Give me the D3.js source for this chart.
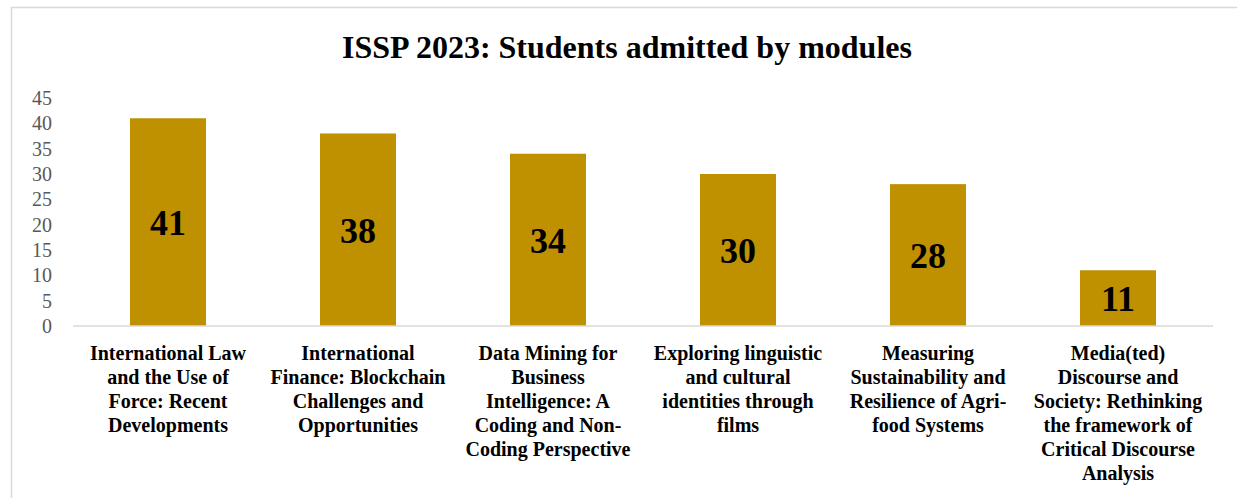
<!DOCTYPE html>
<html>
<head>
<meta charset="utf-8">
<script src="https://cdn.jsdelivr.net/npm/d3@7"></script>
<style>
  html, body { margin: 0; padding: 0; background: #fff; }
  svg { display: block; font-family: 'Liberation Serif', 'Times New Roman', serif; }
</style>
</head>
<body>
<div id="chart"></div>
<script>
const TITLE = 'ISSP 2023: Students admitted by modules'

const modules = [
  'International Law and the Use of Force: Recent Developments',
  'International Finance: Blockchain Challenges and Opportunities',
  'Data Mining for Business Intelligence: A Coding and Non-Coding Perspective',
  'Exploring linguistic and cultural identities through films',
  'Measuring Sustainability and Resilience of Agri-food Systems',
  'Media(ted) Discourse and Society: Rethinking the framework of Critical Discourse Analysis',
]

const students = [41, 38, 34, 30, 28, 11]

// tick labels as they wrap in the original
const moduleLines = [
  ['International Law', 'and the Use of', 'Force: Recent', 'Developments'],
  ['International', 'Finance: Blockchain', 'Challenges and', 'Opportunities'],
  ['Data Mining for', 'Business', 'Intelligence: A', 'Coding and Non-', 'Coding Perspective'],
  ['Exploring linguistic', 'and cultural', 'identities through', 'films'],
  ['Measuring', 'Sustainability and', 'Resilience of Agri-', 'food Systems'],
  ['Media(ted)', 'Discourse and', 'Society: Rethinking', 'the framework of', 'Critical Discourse', 'Analysis'],
]

const yTicks = [0, 5, 10, 15, 20, 25, 30, 35, 40, 45]

const WIDTH = 1237, HEIGHT = 498
const MARGIN = { top: 98, right: 24, bottom: 172, left: 73 }
const W = WIDTH - MARGIN.left - MARGIN.right
const H = HEIGHT - MARGIN.top - MARGIN.bottom

const svg = d3.select('#chart').append('svg')
  .attr('width', WIDTH)
  .attr('height', HEIGHT)

// chart area frame
svg.append('rect')
  .attr('x', 11.5).attr('y', 7.5)
  .attr('width', WIDTH).attr('height', HEIGHT)
  .attr('fill', 'none')
  .attr('stroke', '#d9d9d9')
  .attr('stroke-width', 1.5)

svg.append('text')
  .attr('x', 627).attr('y', 58)
  .attr('text-anchor', 'middle')
  .style('font-size', '32px')
  .style('font-weight', 'bold')
  .attr('fill', '#000')
  .text(TITLE)

const g = svg.append('g').attr('transform', `translate(${MARGIN.left},${MARGIN.top})`)

const x = d3.scaleBand().domain(modules).range([0, W]).paddingInner(0.6).paddingOuter(0.3)
const y = d3.scaleLinear().domain([0, 45]).range([H, 0])

// ── y axis (labels only) ─────────────────────────────────────
const yAxis = g.append('g').call(
  d3.axisLeft(y).tickValues(yTicks).tickSize(0).tickPadding(21)
)
yAxis.select('.domain').remove()
yAxis.selectAll('text')
  .style('font-size', '20px')
  .style('font-family', "'Liberation Serif', serif")
  .attr('fill', '#595959')

// ── bars ─────────────────────────────────────────────────────
g.selectAll('rect.bar').data(students).enter().append('rect')
  .attr('class', 'bar')
  .attr('x', (d, i) => x(modules[i]))
  .attr('y', d => y(d))
  .attr('width', x.bandwidth())
  .attr('height', d => H - y(d))
  .attr('fill', '#bf9000')

g.selectAll('text.val').data(students).enter().append('text')
  .attr('class', 'val')
  .attr('x', (d, i) => x(modules[i]) + x.bandwidth() / 2)
  .attr('y', d => (y(d) + H) / 2)
  .attr('dy', '0.36em')
  .attr('text-anchor', 'middle')
  .style('font-size', '36px')
  .style('font-weight', 'bold')
  .attr('fill', '#000')
  .text(d => d)

// ── x axis baseline + wrapped labels ─────────────────────────
g.append('line')
  .attr('x1', 0).attr('x2', W)
  .attr('y1', H).attr('y2', H)
  .attr('stroke', '#d9d9d9')
  .attr('stroke-width', 1.5)

const labels = g.selectAll('text.cat').data(modules).enter().append('text')
  .attr('class', 'cat')
  .attr('x', d => x(d) + x.bandwidth() / 2)
  .attr('y', H + 34)
  .attr('text-anchor', 'middle')
  .style('font-size', '20px')
  .style('font-weight', 'bold')
  .attr('fill', '#000')

labels.each(function (d, i) {
  const t = d3.select(this)
  moduleLines[i].forEach((line, j) => {
    t.append('tspan')
      .attr('x', x(d) + x.bandwidth() / 2)
      .attr('dy', j === 0 ? 0 : 24)
      .text(line)
  })
})
</script>
</body>
</html>
